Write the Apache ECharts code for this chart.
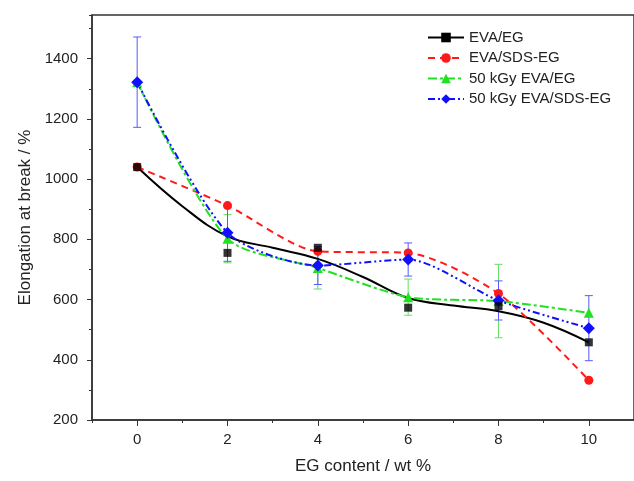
<!DOCTYPE html>
<html>
<head>
<meta charset="utf-8">
<script src="https://cdn.jsdelivr.net/npm/echarts@6/dist/echarts.min.js"></script>
<style>
  html, body { margin: 0; padding: 0; background: #fff; }
  #chart { width: 634px; height: 481px; }
</style>
</head>
<body>
<div id="chart"></div>
<script>
// tick labels
var xTicks = [0, 2, 4, 6, 8, 10];
var yTicks = [200, 400, 600, 800, 1000, 1200, 1400];

// EG content (wt %)
var content = [0, 2, 4, 6, 8, 10];

// elongation at break (%)
var evaEg = [1040, 755, 772, 573, 578, 458];
var evaSdsEg = [1040, 912, 760, 755, 620, 332];
var gyEvaEg = [1322, 802, 705, 608, 595, 556];
var gySdsEg = [1322, 822, 713, 733, 597, 505];

// smoothed curve drawn through the EVA/EG points
var fitX = [0, 1, 2, 3, 4, 5, 6, 7, 8, 9, 10];
var evaEgFit = [1040, 910, 810, 772, 735, 675, 605, 580, 561, 523, 458];

// error bars (half width)
var gyEvaEgErr = [0, 80, 70, 60, 122, 0];
var gySdsEgErr = [150, 95, 63, 55, 65, 108];

function pairs (xs, ys) {
  return xs.map(function (x, i) { return [x, ys[i]] })
}
function errPairs (ys, errs) {
  var out = []
  content.forEach(function (x, i) {
    if (errs[i] > 0) out.push([x, ys[i], errs[i]])
  })
  return out
}
function errorBar (params, api) {
  var x = api.value(0)
  var y = api.value(1)
  var e = api.value(2)
  var top = api.coord([x, y + e])
  var bot = api.coord([x, y - e])
  var half = 4
  var style = { stroke: api.visual('color'), lineWidth: 1 }
  return {
    type: 'group',
    children: [
      { type: 'line', shape: { x1: top[0], y1: top[1], x2: bot[0], y2: bot[1] }, style: style },
      { type: 'line', shape: { x1: top[0] - half, y1: top[1], x2: top[0] + half, y2: top[1] }, style: style },
      { type: 'line', shape: { x1: bot[0] - half, y1: bot[1], x2: bot[0] + half, y2: bot[1] }, style: style }
    ]
  }
}
function plain (v) { return String(v) }

var axisColor = '#333'
var textColor = '#222'
var font = 'Liberation Sans, Arial, sans-serif'

var option = {
  animation: false,
  textStyle: { fontFamily: font },
  grid: {
    left: 92,
    top: 15,
    right: -3,
    bottom: 61,
    show: true,
    borderColor: axisColor,
    borderWidth: 1.5
  },
  legend: {
    orient: 'vertical',
    left: 422,
    top: 25,
    itemWidth: 36,
    itemHeight: 12,
    itemGap: 5.5,
    textStyle: { fontSize: 15, color: textColor, fontFamily: font },
    data: ['EVA/EG', 'EVA/SDS-EG', '50 kGy EVA/EG', '50 kGy EVA/SDS-EG']
  },
  xAxis: [
    {
      type: 'value',
      min: -1,
      max: 11,
      interval: 1,
      name: 'EG content / wt %',
      nameLocation: 'middle',
      nameGap: 38,
      nameTextStyle: { fontSize: 17, color: textColor },
      axisLine: { onZero: false, lineStyle: { color: axisColor, width: 1.5 } },
      axisTick: { length: 3, lineStyle: { color: axisColor } },
      axisLabel: { customValues: xTicks, formatter: plain, fontSize: 15, color: textColor, margin: 12 },
      splitLine: { show: false }
    },
    {
      type: 'value',
      min: -1,
      max: 11,
      position: 'bottom',
      axisLine: { show: false, onZero: false },
      axisTick: { customValues: xTicks, length: 6, lineStyle: { color: axisColor } },
      axisLabel: { show: false },
      splitLine: { show: false }
    }
  ],
  yAxis: [
    {
      type: 'value',
      min: 200,
      max: 1545,
      interval: 100,
      position: 'left',
      name: 'Elongation at break / %',
      nameLocation: 'middle',
      nameGap: 56,
      nameTextStyle: { fontSize: 17, color: textColor },
      axisLine: { show: true, onZero: false, lineStyle: { color: axisColor, width: 1.5 } },
      axisTick: { show: true, length: 3, lineStyle: { color: axisColor } },
      axisLabel: { customValues: yTicks, formatter: plain, fontSize: 15, color: textColor, margin: 14 },
      splitLine: { show: false }
    },
    {
      type: 'value',
      min: 200,
      max: 1545,
      position: 'left',
      axisLine: { show: false, onZero: false },
      axisTick: { show: true, customValues: yTicks, length: 5, lineStyle: { color: axisColor } },
      axisLabel: { show: false },
      splitLine: { show: false }
    }
  ],
  series: [
    {
      name: '50 kGy EVA/EG err',
      type: 'custom',
      renderItem: errorBar,
      itemStyle: { color: '#66dd66' },
      data: errPairs(gyEvaEg, gyEvaEgErr),
      z: 1
    },
    {
      name: '50 kGy EVA/SDS-EG err',
      type: 'custom',
      renderItem: errorBar,
      itemStyle: { color: '#5a5aff' },
      data: errPairs(gySdsEg, gySdsEgErr),
      z: 1
    },
    {
      name: 'EVA/EG',
      type: 'line',
      smooth: 0.4,
      symbol: 'rect',
      showSymbol: false,
      itemStyle: { color: '#000' },
      lineStyle: { color: '#000', width: 2 },
      data: pairs(fitX, evaEgFit),
      z: 3
    },
    {
      name: 'EVA/EG points',
      type: 'scatter',
      symbol: 'rect',
      symbolSize: 8,
      itemStyle: { color: '#000' },
      data: pairs(content, evaEg),
      z: 4
    },
    {
      name: 'EVA/SDS-EG',
      type: 'line',
      smooth: 0.25,
      symbol: 'circle',
      symbolSize: 9,
      itemStyle: { color: '#ff1a1a' },
      lineStyle: { color: '#ff1a1a', width: 2, type: [7, 5] },
      data: pairs(content, evaSdsEg),
      z: 3
    },
    {
      name: '50 kGy EVA/EG',
      type: 'line',
      smooth: 0.25,
      symbol: 'triangle',
      symbolSize: 10,
      itemStyle: { color: '#22e022' },
      lineStyle: { color: '#22e022', width: 2, type: [9, 3, 3, 3] },
      data: pairs(content, gyEvaEg),
      z: 3
    },
    {
      name: '50 kGy EVA/SDS-EG',
      type: 'line',
      smooth: 0.25,
      symbol: 'diamond',
      symbolSize: 12,
      itemStyle: { color: '#1010ff' },
      lineStyle: { color: '#1010ff', width: 2, type: [7, 3, 2, 3, 2, 3] },
      data: pairs(content, gySdsEg),
      z: 3
    }
  ]
}

var myChart = echarts.init(document.getElementById('chart'))
myChart.setOption(option)
</script>
</body>
</html>
